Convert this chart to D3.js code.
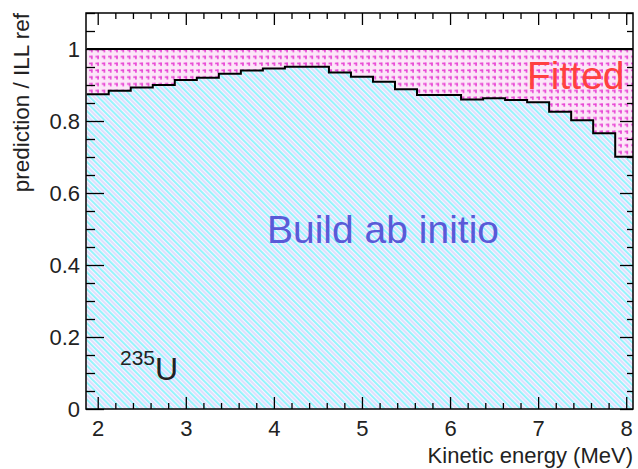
<!DOCTYPE html>
<html lang="en">
<head>
<meta charset="utf-8">
<title>prediction / ILL ref</title>
<script src="https://d3js.org/d3.v7.min.js"></script>
<style>
  body { margin: 0; background: #fff; }
  svg text { font-family: "Liberation Sans", Arial, Helvetica, sans-serif; }
</style>
</head>
<body>
<svg width="638" height="469"></svg>
<script>
// bin centres (MeV), 0.25 MeV wide
const energy = [2, 2.25, 2.5, 2.75, 3, 3.25, 3.5, 3.75, 4, 4.25, 4.5, 4.75, 5,
                5.25, 5.5, 5.75, 6, 6.25, 6.5, 6.75, 7, 7.25, 7.5, 7.75, 8];
const binWidth = 0.25;
const abInitio = [0.874, 0.884, 0.893, 0.900, 0.914, 0.920, 0.931, 0.940, 0.946,
                  0.951, 0.951, 0.935, 0.923, 0.909, 0.888, 0.872, 0.872, 0.860,
                  0.863, 0.858, 0.852, 0.826, 0.802, 0.766, 0.701];
const fitted = [1, 1, 1, 1, 1, 1, 1, 1, 1, 1, 1, 1, 1,
                1, 1, 1, 1, 1, 1, 1, 1, 1, 1, 1, 1];
const xTicks = [2, 3, 4, 5, 6, 7, 8];
const yTicks = [0, 0.2, 0.4, 0.6, 0.8, 1];

const svg = d3.select("svg");
const m = {left: 86, right: 5, top: 13, bottom: 60};
const W = 638, H = 469;

const x = d3.scaleLinear().domain([1.867, 8.077]).range([m.left, W - m.right]);
const y = d3.scaleLinear().domain([0, 1.1]).range([H - m.bottom, m.top]);

const defs = svg.append("defs");
defs.append("clipPath").attr("id", "frame")
  .append("rect")
  .attr("x", m.left).attr("y", m.top)
  .attr("width", W - m.left - m.right).attr("height", H - m.top - m.bottom);

// cyan / lavender diagonal hatch
const pc = defs.append("pattern").attr("id", "cyanHatch")
  .attr("patternUnits", "userSpaceOnUse")
  .attr("width", 6).attr("height", 6)
  .attr("patternTransform", "rotate(-45)");
pc.append("rect").attr("width", 6).attr("height", 6).attr("fill", "#f6f6ff");
pc.append("rect").attr("x", 0).attr("width", 1.8).attr("height", 6).attr("fill", "#8ef4fc");
pc.append("rect").attr("x", 3).attr("width", 1.8).attr("height", 6).attr("fill", "#dcdcfc");

// magenta dotted pattern on pink hatch
const pm = defs.append("pattern").attr("id", "pinkDots")
  .attr("patternUnits", "userSpaceOnUse")
  .attr("width", 6.3).attr("height", 6.8);
pm.append("rect").attr("width", 6.3).attr("height", 6.8).attr("fill", "#fce6f8");
pm.append("rect").attr("x", 1).attr("y", 1.5).attr("width", 3.4).attr("height", 1.6).attr("fill", "#e845d4");
pm.append("rect").attr("x", 2.8).attr("y", 1.5).attr("width", 1.6).attr("height", 3.2).attr("fill", "#e845d4");

// step points from bins
function steps(vals) {
  const pts = [];
  energy.forEach((e, i) => {
    pts.push([e - binWidth / 2, vals[i]]);
    pts.push([e + binWidth / 2, vals[i]]);
  });
  return pts;
}

const g = svg.append("g").attr("clip-path", "url(#frame)");
const area = d3.area().x(d => x(d[0])).y0(y(0)).y1(d => y(d[1]));
const line = d3.line().x(d => x(d[0])).y(d => y(d[1]));

g.append("path").datum(steps(fitted)).attr("d", area).attr("fill", "url(#pinkDots)");
g.append("path").datum(steps(abInitio)).attr("d", area).attr("fill", "url(#cyanHatch)");
g.append("path").datum(steps(fitted)).attr("d", line)
  .attr("fill", "none").attr("stroke", "#000").attr("stroke-width", 2);
g.append("path").datum(steps(abInitio)).attr("d", line)
  .attr("fill", "none").attr("stroke", "#000").attr("stroke-width", 2);

// axes (ticks inside the frame)
const xMinor = d3.range(2, 8.01, 0.2).filter(v => Math.abs(v - Math.round(v)) > 1e-6);
const yMinor = d3.range(0, 1.101, 0.05).filter(v => Math.abs(v * 5 - Math.round(v * 5)) > 1e-6);

function styleAxis(sel) {
  sel.select(".domain").remove();
  sel.selectAll("line").attr("stroke", "#000").attr("stroke-width", 1.3);
  sel.selectAll("text").attr("fill", "#222").style("font-size", "22px");
}

svg.append("g").attr("transform", `translate(0,${y(0)})`)
  .call(d3.axisBottom(x).tickValues(xTicks).tickFormat(d3.format("d"))
    .tickSizeInner(-12).tickSizeOuter(0).tickPadding(11))
  .call(styleAxis);
svg.append("g").attr("transform", `translate(0,${y(0)})`)
  .call(d3.axisBottom(x).tickValues(xMinor).tickFormat("").tickSizeInner(-6).tickSizeOuter(0))
  .call(styleAxis);
svg.append("g").attr("transform", `translate(0,${m.top})`)
  .call(d3.axisTop(x).tickValues(xTicks).tickFormat("").tickSizeInner(-12).tickSizeOuter(0))
  .call(styleAxis);
svg.append("g").attr("transform", `translate(0,${m.top})`)
  .call(d3.axisTop(x).tickValues(xMinor).tickFormat("").tickSizeInner(-6).tickSizeOuter(0))
  .call(styleAxis);

svg.append("g").attr("transform", `translate(${m.left},0)`)
  .call(d3.axisLeft(y).tickValues(yTicks).tickFormat(d3.format("~g"))
    .tickSizeInner(-18).tickSizeOuter(0).tickPadding(6))
  .call(styleAxis);
svg.append("g").attr("transform", `translate(${m.left},0)`)
  .call(d3.axisLeft(y).tickValues(yMinor).tickFormat("").tickSizeInner(-9).tickSizeOuter(0))
  .call(styleAxis);
svg.append("g").attr("transform", `translate(${W - m.right},0)`)
  .call(d3.axisRight(y).tickValues(yTicks).tickFormat("").tickSizeInner(-13).tickSizeOuter(0))
  .call(styleAxis);
svg.append("g").attr("transform", `translate(${W - m.right},0)`)
  .call(d3.axisRight(y).tickValues(yMinor).tickFormat("").tickSizeInner(-6).tickSizeOuter(0))
  .call(styleAxis);

// frame
svg.append("rect")
  .attr("x", m.left).attr("y", m.top)
  .attr("width", W - m.left - m.right).attr("height", H - m.top - m.bottom)
  .attr("fill", "none").attr("stroke", "#000").attr("stroke-width", 1.5);

// axis titles
svg.append("text")
  .attr("x", W - m.right).attr("y", 463)
  .attr("text-anchor", "end").attr("fill", "#222")
  .style("font-size", "22px")
  .text("Kinetic energy (MeV)");
svg.append("text")
  .attr("transform", `translate(29,${m.top}) rotate(-90)`)
  .attr("text-anchor", "end").attr("fill", "#222")
  .style("font-size", "22.5px")
  .text("prediction / ILL ref");

// labels in the plot
svg.append("text")
  .attr("x", 527).attr("y", 89)
  .attr("fill", "#ff4040")
  .style("font-size", "39px")
  .text("Fitted");
svg.append("text")
  .attr("x", 267).attr("y", 243)
  .attr("fill", "#5a5ad8")
  .style("font-size", "39px")
  .text("Build ab initio");

const iso = svg.append("text").attr("x", 120).attr("y", 380).attr("fill", "#222");
iso.append("tspan").attr("dy", -15).style("font-size", "21px").text("235");
iso.append("tspan").attr("dy", 15).style("font-size", "32px").text("U");
</script>
</body>
</html>
